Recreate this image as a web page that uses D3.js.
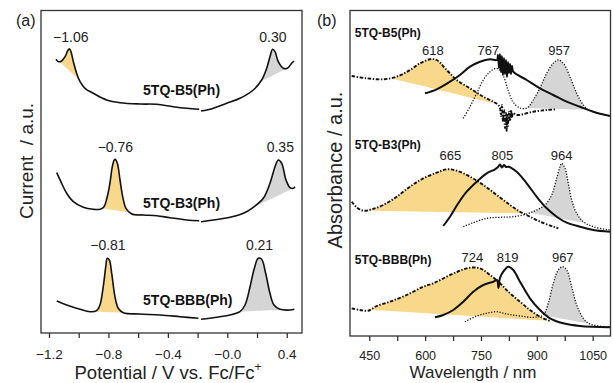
<!DOCTYPE html>
<html><head><meta charset="utf-8">
<script src="https://cdn.jsdelivr.net/npm/d3@7"></script>
<style>
html,body{margin:0;padding:0;background:#fff;}
svg{display:block;font-family:"Liberation Sans",Arial,Helvetica,sans-serif;}
</style></head>
<body>
<svg id="chart" width="613" height="383"></svg>
<script>
// ---------- DATA ----------
// Panel (a): differential pulse voltammetry, [potential (V vs Fc/Fc+), current (a.u.)]; null = gap
const potTicks = [-1.2,-1.0,-0.8,-0.6,-0.4,-0.2,0.0,0.2,0.4];
const potTickLabels = ["\u22121.2","","\u22120.8","","\u22120.4","","\u22120.0","","0.4"];

const cvB5 = [
[-1.153,27.37],[-1.137,27.13],[-1.115,27.2],[-1.092,27.63],[-1.074,28.23],[-1.063,28.43],[-1.052,28.13],[-1.036,27.13],[-1.014,25.97],[-0.991,25.13],[-0.958,24.47],[-0.902,23.97],[-0.812,23.3],[-0.722,23.03],[-0.588,22.9],[-0.475,22.87],[-0.364,22.63],[-0.273,22.47],[-0.189,22.37],
null,
[-0.177,22.2],[-0.117,22.37],[-0.004,22.97],[0.085,23.47],[0.175,24.3],[0.231,25.3],[0.265,26.47],[0.287,27.63],[0.305,28.37],[0.321,28.13],[0.343,27.13],[0.377,26.47],[0.404,26.47],[0.433,26.97],[0.449,27.2]
];
const cvB3 = [
[-1.148,16.03],[-1.115,14.97],[-1.081,13.97],[-1.036,13.13],[-0.969,12.57],[-0.902,12.37],[-0.857,12.37],[-0.830,12.63],[-0.808,13.63],[-0.790,14.97],[-0.774,16.63],[-0.761,17.3],[-0.754,17.37],[-0.740,16.97],[-0.722,15.3],[-0.704,13.63],[-0.682,12.47],[-0.643,11.9],[-0.565,11.8],[-0.475,11.73],[-0.386,11.53],[-0.273,11.3],[-0.189,11.23],
null,
[-0.177,11.13],[-0.094,11.3],[0.018,11.57],[0.108,11.97],[0.175,12.57],[0.242,13.47],[0.287,14.97],[0.321,16.63],[0.343,17.3],[0.366,16.97],[0.395,15.3],[0.422,14.53],[0.444,14.47],[0.455,14.63]
];
const cvBBB = [
[-1.148,3.2],[-1.081,2.8],[-0.991,2.37],[-0.924,2.13],[-0.879,2.23],[-0.857,2.8],[-0.835,4.63],[-0.818,6.63],[-0.808,7.47],[-0.794,7.3],[-0.778,5.97],[-0.756,3.63],[-0.734,2.47],[-0.700,2.03],[-0.588,1.9],[-0.453,1.8],[-0.318,1.63],[-0.195,1.47],
null,
[-0.177,1.37],[-0.094,1.53],[0.018,1.8],[0.085,2.13],[0.119,2.8],[0.153,4.63],[0.182,6.47],[0.208,7.47],[0.231,7.37],[0.258,5.97],[0.287,3.97],[0.314,2.8],[0.354,2.37],[0.422,2.3],[0.451,2.37]
];
const cvNames = ["5TQ-B5(Ph)","5TQ-B3(Ph)","5TQ-BBB(Ph)"];
const cvPeakLabels = [["\u22121.06","0.30"],["\u22120.76","0.35"],["\u22120.81","0.21"]];
const cvPeakValues = [[-1.06,0.30],[-0.76,0.35],[-0.81,0.21]];
const cvLabelLevel = [29.1,18.1,8.3];
const cvRedRange = [[-1.13,-0.995],[-0.845,-0.547],[-0.911,-0.689]];
const cvOxRange = [[0.22,0.40],[0.175,0.444],[0.085,0.388]];

// Panel (b): spectra, [wavelength (nm), absorbance (a.u.)]
const wlTicks = [450,525,600,675,750,825,900,975,1050];
const wlTickLabels = ["450","","600","","750","","900","","1050"];

const dashB5 = [
[402.7,26.0],[443,25.77],[487.6,25.67],[523.6,25.93],[559.3,26.6],[586.2,27.27],[613,27.67],[631,27.6],[657.9,26.6],[684.8,25.6],[720.5,24.77],[756.2,23.93],[783.1,23.43],[796.5,23.1],
[801,22.8],[803.7,22.0],[806.4,23.1],[809.1,21.4],[811.8,22.6],[814.5,20.8],[817.2,22.3],[819,20.5],[821,22.1],[822.5,21.0],[825.2,22.4],[827.9,21.5],[830.6,22.6],[833.3,21.8],[836,22.3],
[845.9,22.1],[890.5,22.43],[926.5,22.6],[953.4,22.67]
];
const solidB5 = [
[599.6,24.27],[631,24.67],[666.8,25.43],[693.6,26.1],[720.5,26.93],[747.4,27.43],[774.3,27.67],[793,27.6],[795.7,28.1],[798.4,26.8],[801,28.2],[803.7,26.4],[806.4,28.0],[809.1,26.1],[811.8,27.8],[814.5,26.2],[817.2,27.6],[819.8,25.9],[822.5,27.4],[825.2,26.3],[827.9,27.2],[830.6,26.2],[833.3,27.0],[836.8,26.43],[872.8,25.6],[908.5,24.77],[944.2,24.1],[980.2,23.43],[1015.9,22.93],[1051.7,22.43],[1096.5,22.0]
];
const dotB5 = [
[702.5,21.77],[720.5,22.93],[738.5,24.27],[756.2,25.6],[774.3,26.43],[793,26.77],[809.1,26.1],[822.5,24.6],[836,23.4],[854.8,22.8],[873.6,22.8],[890.5,23.6],[908.5,24.8],[926.5,26.27],[944.2,27.27],[957.7,27.6],[971.1,27.27],[989.1,25.93],[1007.1,24.27],[1024.8,23.1],[1038.2,22.6]
];
const dashB3 = [
[402.7,13.43],[416.2,12.87],[433.9,12.53],[456.4,12.67],[487.6,13.1],[523.6,13.93],[559.3,14.93],[595,15.77],[631,16.33],[657.9,16.67],[684.8,16.53],[720.5,15.93],[756.2,15.1],[792.2,14.1],[827.9,13.1],[854.8,12.43],[881.6,11.93],[908.5,11.43],[944.2,10.93],[957.7,10.77]
];
const solidB3 = [
[648.8,11.0],[666.8,11.93],[689,13.27],[711.6,14.43],[738.5,15.43],[765.3,16.27],[787.6,16.67],[795.7,16.9],[801,17.15],[806.4,16.85],[811.8,17.1],[817.2,16.9],[823.4,16.93],[845.9,16.43],[872.8,15.27],[899.6,13.93],[926.5,12.77],[953.4,11.93],[980.2,11.33],[1015.9,10.93],[1051.7,10.6],[1096.5,10.43]
];
const dotB3 = [
[702.5,10.93],[729.3,11.33],[765.3,11.77],[801,11.87],[836.8,11.93],[872.8,12.2],[899.6,12.6],[921.9,13.1],[939.9,14.1],[953.4,15.77],[962.3,16.93],[966.8,17.27],[975.7,16.77],[984.5,15.27],[993.6,13.6],[1007.1,12.27],[1024.8,11.43],[1051.7,10.93],[1096.5,10.6]
];
const dashBBB = [
[402.7,2.77],[425,2.6],[447.3,2.53],[469.9,3.0],[505.6,3.43],[550.5,4.1],[595,4.93],[621.9,5.27],[657.9,5.93],[693.6,6.53],[720.5,6.83],[747.4,6.77],[774.3,6.1],[801,5.27],[827.9,4.27],[854.8,3.43],[881.6,2.6],[908.5,1.93],[935.4,1.5]
];
const solidBBB = [
[626.5,1.87],[648.8,2.1],[675.6,2.6],[702.5,3.43],[729.3,4.43],[756.2,5.1],[783.1,5.43],[793,5.6],[797,4.8],[801,5.8],[809.9,6.43],[823.4,6.93],[836.8,6.6],[854.8,5.43],[881.6,3.77],[908.5,2.6],[935.4,1.77],[971.1,1.27],[1015.9,1.0],[1096.5,0.87]
];
const dotBBB = [
[707,1.43],[738.5,2.0],[765.3,2.27],[792.2,2.43],[819,2.2],[854.8,2.0],[890.5,1.87],[917.4,2.1],[930.8,3.27],[944.2,5.27],[957.7,6.6],[969.5,6.93],[980.2,6.6],[993.6,4.93],[1007.1,3.1],[1024.8,1.77],[1042.8,1.2],[1096.5,0.87]
];
const specPeakLabels = [["618","767","957"],["665","805","964"],["724","819","967"]];
const specLabelLevel = [28.1,17.6,7.4];
const specYellowRange = [[505.6,793],[433.9,863.6],[451.9,935.4]];
const specGreyRange = [[873.6,1038.2],[881.6,1033.9],[917.4,1042.8]];

// ---------- DRAW ----------
const svg = d3.select("#chart");
const FONT = '"Liberation Sans",Arial,Helvetica,sans-serif';
const YELLOW = "#f8d98b", GREY = "#d5d5d5", INK = "#111";

function interp(pts){
  return x => {
    for(let i=0;i<pts.length-1;i++){
      const a=pts[i], b=pts[i+1];
      if(x>=a[0] && x<=b[0]) return a[1]+(b[1]-a[1])*(x-a[0])/(b[0]-a[0]);
    }
    return x<pts[0][0]?pts[0][1]:pts[pts.length-1][1];
  };
}
const curve = d3.curveCatmullRom.alpha(0.5);
function chordFill(g, data, range, xs, ys, color){
  const pts = data.filter(d=>d);
  const f = interp(pts);
  const [x0,x1] = range;
  const seg = [[x0,f(x0)], ...pts.filter(d=>d[0]>x0 && d[0]<x1), [x1,f(x1)]];
  const b0=f(x0), b1=f(x1);
  const base = x => b0+(b1-b0)*(x-x0)/(x1-x0);
  g.append("path").attr("fill",color).attr("stroke","none")
    .attr("d", d3.area().x(d=>xs(d[0])).y0(d=>ys(base(d[0]))).y1(d=>ys(d[1])).curve(curve)(seg));
}

// ===== Panel (a) =====
const A = {l:41, r:302, t:10.5, b:333};
const xA = d3.scaleLinear().domain([-1.2538,0.5026]).range([A.l,A.r]);
const yA = d3.scaleLinear().domain([0,32.2]).range([A.b,A.b-322]);
svg.append("clipPath").attr("id","clipA").append("rect").attr("x",A.l).attr("y",A.t).attr("width",A.r-A.l).attr("height",A.b-A.t);
const gA = svg.append("g").attr("clip-path","url(#clipA)");
const cvData = [cvB5,cvB3,cvBBB];
cvData.forEach((d,i)=>{
  chordFill(gA, d, cvRedRange[i], xA, yA, YELLOW);
  chordFill(gA, d, cvOxRange[i], xA, yA, GREY);
});
const lineA = d3.line().defined(d=>d).x(d=>xA(d[0])).y(d=>yA(d[1])).curve(curve);
cvData.forEach(d=>{
  gA.append("path").attr("d",lineA(d)).attr("fill","none").attr("stroke",INK).attr("stroke-width",1.6).attr("stroke-linejoin","round");
});
cvData.forEach((d,i)=>{
  cvPeakLabels[i].forEach((lab,j)=>{
    svg.append("text").attr("x",xA(cvPeakValues[i][j])+1).attr("y",yA(cvLabelLevel[i]))
      .attr("text-anchor","middle").attr("font-size",14).attr("fill","#222").text(lab);
  });
});
const cvNameLevel = [23.8,12.5,2.8];
cvNames.forEach((n,i)=>{
  svg.append("text").attr("x",xA(-0.567)).attr("y",yA(cvNameLevel[i]))
    .attr("font-size",14).attr("font-weight","bold").attr("fill","#111").text(n);
});
svg.append("rect").attr("x",A.l).attr("y",A.t).attr("width",A.r-A.l).attr("height",A.b-A.t)
  .attr("fill","none").attr("stroke","#333").attr("stroke-width",1.3);
const axA = svg.append("g").attr("transform",`translate(0,${A.b})`)
  .call(d3.axisBottom(xA).tickValues(potTicks).tickSize(5).tickPadding(11).tickFormat((d,i)=>potTickLabels[i]));
axA.select(".domain").remove();
axA.selectAll("line").attr("stroke","#333").attr("stroke-width",1.3);
axA.selectAll("text").filter(function(){return this.textContent==="";}).remove();
axA.selectAll("text").attr("font-size",13.5).attr("font-family",FONT).attr("fill","#222");
const tA = svg.append("text").attr("x",168).attr("y",379).attr("text-anchor","middle").attr("font-size",18.5).attr("fill","#222");
tA.append("tspan").text("Potential / V vs. Fc/Fc");
tA.append("tspan").attr("font-size",12).attr("dy",-8).text("+");
svg.append("text").attr("transform","translate(33,161) rotate(-90)").attr("text-anchor","middle")
  .attr("font-size",19).attr("fill","#222").attr("xml:space","preserve").text("Current  / a.u.");
svg.append("text").attr("x",16).attr("y",26).attr("font-size",16).attr("fill","#222").text("(a)");

// ===== Panel (b) =====
const B = {l:350, r:610.5, t:10.5, b:336};
const xB = d3.scaleLinear().domain([398.2,1097.9]).range([B.l,B.r]);
const yB = d3.scaleLinear().domain([0,32.55]).range([B.b,B.b-325.5]);
svg.append("clipPath").attr("id","clipB").append("rect").attr("x",B.l).attr("y",B.t).attr("width",B.r-B.l).attr("height",B.b-B.t);
const gB = svg.append("g").attr("clip-path","url(#clipB)");
const dashSets = [dashB5,dashB3,dashBBB], solidSets=[solidB5,solidB3,solidBBB], dotSets=[dotB5,dotB3,dotBBB];
[0,1,2].forEach(i=>{
  chordFill(gB, dashSets[i], specYellowRange[i], xB, yB, YELLOW);
  chordFill(gB, dotSets[i], specGreyRange[i], xB, yB, GREY);
});
const lineB = d3.line().x(d=>xB(d[0])).y(d=>yB(d[1])).curve(curve);
[0,1,2].forEach(i=>{
  gB.append("path").attr("d",lineB(dotSets[i])).attr("fill","none").attr("stroke",INK).attr("stroke-width",1.3).attr("stroke-dasharray","1.2 1.6");
  gB.append("path").attr("d",lineB(dashSets[i])).attr("fill","none").attr("stroke",INK).attr("stroke-width",1.9).attr("stroke-dasharray","3.5 1.6 1.4 1.6");
  gB.append("path").attr("d",lineB(solidSets[i])).attr("fill","none").attr("stroke",INK).attr("stroke-width",2).attr("stroke-linejoin","round");
});
specPeakLabels.forEach((labs,i)=>{
  labs.forEach(l=>{
    svg.append("text").attr("x",xB(+l)+1).attr("y",yB(specLabelLevel[i]))
      .attr("text-anchor","middle").attr("font-size",13).attr("fill","#222").text(l);
  });
});
const specNameLevel = [29.95,18.7,7.2];
cvNames.forEach((n,i)=>{
  svg.append("text").attr("x",xB(411)).attr("y",yB(specNameLevel[i]))
    .attr("font-size",12).attr("font-weight","bold").attr("fill","#111").text(n);
});
svg.append("rect").attr("x",B.l).attr("y",B.t).attr("width",B.r-B.l).attr("height",B.b-B.t)
  .attr("fill","none").attr("stroke","#333").attr("stroke-width",1.3);
const axB = svg.append("g").attr("transform",`translate(0,${B.b})`)
  .call(d3.axisBottom(xB).tickValues(wlTicks).tickSize(5).tickPadding(10.5).tickFormat((d,i)=>wlTickLabels[i]));
axB.select(".domain").remove();
axB.selectAll("line").attr("stroke","#333").attr("stroke-width",1.3);
axB.selectAll("text").filter(function(){return this.textContent==="";}).remove();
axB.selectAll("text").attr("font-size",12.5).attr("font-family",FONT).attr("fill","#222");
svg.append("text").attr("x",473).attr("y",378).attr("text-anchor","middle").attr("font-size",17).attr("fill","#222").text("Wavelength / nm");
svg.append("text").attr("transform","translate(342,170) rotate(-90)").attr("text-anchor","middle")
  .attr("font-size",20).attr("fill","#222").text("Absorbance / a.u.");
svg.append("text").attr("x",317).attr("y",26).attr("font-size",16).attr("fill","#222").text("(b)");
</script>
</body></html>
